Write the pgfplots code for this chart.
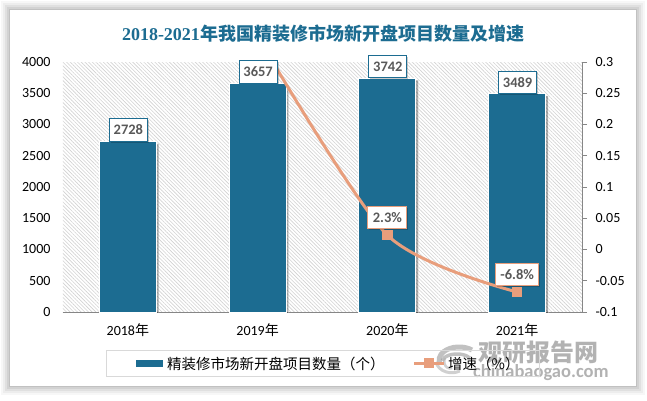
\documentclass[border=0pt]{standalone}
\usepackage{pgfplots}
\pgfplotsset{compat=1.18}
\usepackage{fontspec}
\usetikzlibrary{patterns.meta,shadows}
\setmainfont{Carlito}
\newfontfamily\cjk{Noto Sans CJK SC}
\newfontfamily\titlelatin{Liberation Serif}
\definecolor{barblue}{HTML}{1C6C91}
\definecolor{lineor}{HTML}{E89E7C}
\definecolor{hatch}{HTML}{D2D2D2}
\definecolor{axgray}{HTML}{868686}
\definecolor{lab}{HTML}{595959}
\tikzset{
  boxlab/.style={font=\fontsize{14.5}{14.5}\selectfont\bfseries, text=lab, fill=white, draw=barblue, line width=0.9pt,
    inner sep=0pt, minimum height=22.5pt, drop shadow={shadow xshift=1.5pt,shadow yshift=-1.5pt,opacity=0.2,fill=black}},
}
\pgfplotsset{
  common/.style={
    at={(63pt,88pt)}, anchor=south west, scale only axis,
    width=519pt, height=250pt, xmin=-0.5, xmax=3.5,
  },
}
\begin{document}
\begin{tikzpicture}[x=1pt,y=1pt]
\path[use as bounding box] (0,0) rectangle (647,400);
\fill[white] (0,0) rectangle (647,400);
\foreach \d/\o in {9/0.03,7/0.04,5/0.05,3/0.06,1/0.08}{
  \fill[black,opacity=\o] (10-\d,14-\d) rectangle (636+\d,390+\d);
}
\fill[white] (10,14) rectangle (636,390);
% bars
\begin{axis}[common,
  ymin=0, ymax=4000, ytick={0,500,...,4000},
  axis y line*=left, axis x line*=bottom,
  axis line style={draw=axgray,line width=0.9pt},
  y axis line style={draw=none},
  /pgf/number format/assume math mode=true,
  /pgf/number format/1000 sep={},
  yticklabel style={font=\fontsize{14}{14}\selectfont, text=black, xshift=-9pt},
  xticklabel style={font=\fontsize{14}{14}\selectfont, text=black, yshift=-8pt},
  major tick length=0pt,
  xtick={0,1,2,3},
  xticklabels={2018{\cjk 年},2019{\cjk 年},2020{\cjk 年},2021{\cjk 年}},
  axis background/.style={pattern={Lines[angle=-45,distance=2.6pt,line width=0.6pt]},pattern color=hatch},
  ybar, bar width=57pt,
]
\addplot[fill=barblue, draw=white, line width=0.9pt,
  drop shadow={shadow xshift=2.5pt,shadow yshift=-2pt,opacity=0.3,fill=black}]
  coordinates {(0,2728)(1,3657)(2,3742)(3,3489)};
\end{axis}
% line
\begin{axis}[common,
  ymin=-0.1, ymax=0.3, ytick={-0.1,-0.05,0,0.05,0.1,0.15,0.2,0.25,0.3},
  yticklabels={-0.1,-0.05,0,0.05,0.1,0.15,0.2,0.25,0.3},
  axis y line*=right, axis x line=none,
  axis line style={draw=axgray,line width=0.9pt},
  y tick style={draw=axgray,line width=0.9pt},
  tick align=outside, major tick length=5pt,
  /pgf/number format/assume math mode=true,
  yticklabel style={font=\fontsize{14}{14}\selectfont, text=black, anchor=west, xshift=5pt},
  xtick=\empty,
]
\addplot[draw=lineor, line width=3pt, smooth, tension=0.45, mark=square*,
  mark size=4.7pt, mark options={fill=lineor,draw=lineor,line width=0pt}]
  coordinates {(1,0.341)(2,0.023)(3,-0.068)};
\end{axis}
% labels
\begin{axis}[common, ymin=-0.1, ymax=0.3, axis lines=none, clip=false]
\addplot[draw=none, mark=none, nodes near coords, point meta=explicit symbolic,
  nodes near coords style={boxlab, draw=lineor, anchor=south, minimum width=39pt, yshift=6pt, xshift=0pt}]
  coordinates {(2,0.023)[2.3\%]};
\addplot[draw=none, mark=none, nodes near coords, point meta=explicit symbolic,
  nodes near coords style={boxlab, draw=lineor, anchor=south, minimum width=43pt, yshift=6pt, xshift=0pt}]
  coordinates {(3,-0.068)[-6.8\%]};
\end{axis}
\begin{axis}[common, ymin=0, ymax=4000, axis lines=none, clip=false]
\addplot[draw=none, mark=none, nodes near coords, point meta=explicit symbolic,
  nodes near coords style={boxlab, anchor=south, minimum width=38pt, yshift=0pt, xshift=0.5pt}]
  coordinates {(0,2728)[2728] (1,3657)[3657] (2,3742)[3742] (3,3489)[3489]};
\end{axis}
% title
\node[anchor=center,text=barblue,font=\fontsize{18}{18}\selectfont] at (323,366.5)
  {\titlelatin\bfseries 2018-2021\cjk\bfseries 年我国精装修市场新开盘项目数量及增速};
% watermark
\begin{scope}[opacity=0.6]
\draw[gray!80,line width=5pt] (472,50) arc (50:200:20 and 13);
\draw[gray!60,line width=3pt] (436,38) arc (190:300:16 and 13);
\draw[gray!80,line width=3.5pt] (470,42) arc (30:170:15 and 8);
\draw[gray!60,line width=2.5pt] (445,42) arc (150:290:6 and 7);
\node[anchor=west,inner sep=0pt,text=gray,font=\fontsize{24}{24}\cjk\bfseries] at (478,48) {观研报告网};
\node[anchor=west,inner sep=0pt,text=gray,font=\fontsize{18.5}{18.5}\bfseries] at (473,27) {chinabaogao.com};
\end{scope}
% legend
\draw[draw=black!15,line width=0.9pt] (106.5,23.5) rectangle (539,50);
\fill[barblue] (136,33) rectangle (163,40);
\node[anchor=west,inner sep=0pt,font=\fontsize{14.5}{14.5}\cjk] at (167,36.5) {精装修市场新开盘项目数量（个）};
\draw[lineor,line width=3pt] (414,37)--(444,37);
\fill[lineor] (424,32) rectangle (434,42);
\node[anchor=west,inner sep=0pt,font=\fontsize{14.5}{14.5}\cjk] at (448,36.5) {增速（\%）};
\end{tikzpicture}
\end{document}
